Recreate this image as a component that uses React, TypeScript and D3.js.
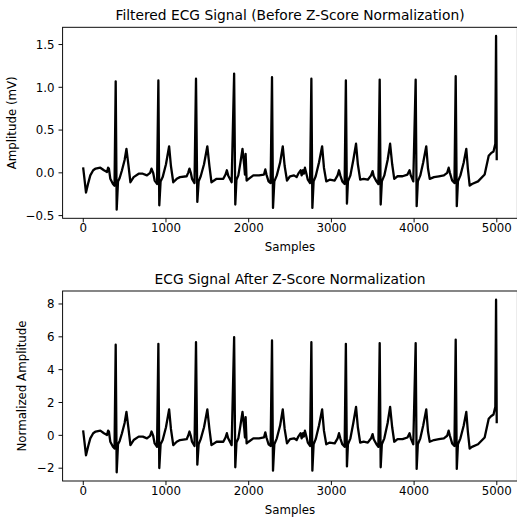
import React from "react";
import * as d3 from "d3";

// Sample index of each traced point of the filtered ECG
const ecgSamples = [
  0, 12, 33, 60, 85, 120, 150, 206, 250, 287, 300, 310, 327, 359, 378,
  392, 404, 420, 440, 468, 500, 522, 545, 570, 609, 670, 720, 770, 808, 825, 845, 863, 892,
  908, 919, 935, 960, 1000, 1038, 1060, 1088, 1130, 1169, 1250, 1268, 1284, 1300, 1315, 1345,
  1363, 1379, 1395, 1420, 1460, 1500, 1525, 1550, 1612, 1693, 1720, 1736, 1752, 1794,
  1824, 1838, 1852, 1875, 1900, 1925, 1945, 1955, 1963, 1975, 2000, 2056, 2125, 2185, 2201, 2215, 2240, 2265,
  2282, 2294, 2310, 2340, 2380, 2412, 2435, 2463, 2500, 2548, 2580, 2600, 2628, 2640, 2657, 2667, 2680, 2695, 2715, 2742,
  2758, 2770, 2785, 2810, 2850, 2888, 2910, 2938, 2980, 3040, 3075, 3092, 3108, 3132, 3160,
  3175, 3188, 3200, 3230, 3265, 3298, 3320, 3348, 3390, 3440, 3480, 3498, 3512, 3545, 3568,
  3584, 3596, 3610, 3640, 3680, 3710, 3735, 3760, 3800, 3860, 3920, 3945, 3960, 3990,
  4019, 4031, 4045, 4075, 4110, 4147, 4168, 4189, 4240, 4300, 4360, 4400, 4418, 4433, 4460, 4488,
  4503, 4516, 4530, 4560, 4600, 4631, 4650, 4672, 4700, 4773, 4853, 4902, 4930, 4960, 4982,
  4991, 4999,
];

// Amplitude (mV) at each traced point
const ecgAmplitude = [
  0.05, -0.05, -0.23, -0.12, -0.03, 0.03, 0.05, 0.06, 0.03, 0.01, 0.06, 0.05, -0.07, -0.13, -0.15,
  1.07, -0.43, -0.1, -0.06, 0.03, 0.15, 0.28, 0.1, -0.11, -0.05, -0.01, -0.01, -0.03, 0.0, 0.05, 0.0, -0.09, -0.13,
  1.08, -0.38, -0.1, -0.05, 0.1, 0.31, 0.08, -0.11, -0.07, -0.05, -0.04, 0.0, 0.05, 0.0, -0.07, -0.12,
  1.1, -0.34, -0.1, -0.04, 0.1, 0.31, 0.08, -0.11, -0.07, -0.07, -0.02, 0.03, -0.03, -0.11,
  1.16, -0.37, -0.08, -0.03, 0.12, 0.28, 0.1, -0.02, 0.22, -0.09, -0.07, -0.03, -0.03, -0.02, 0.04, -0.02, -0.1, -0.12,
  1.12, -0.41, -0.1, -0.03, 0.12, 0.31, 0.08, -0.09, -0.04, -0.03, -0.05, -0.01, 0.03, -0.03, 0.03, -0.01, 0.06, 0.0, -0.08, -0.12,
  1.1, -0.41, -0.1, -0.04, 0.12, 0.31, 0.06, -0.1, -0.08, -0.09, -0.03, 0.03, -0.03, -0.1, -0.13,
  1.08, -0.36, -0.1, -0.03, 0.15, 0.34, 0.1, -0.08, -0.07, -0.08, -0.03, 0.02, -0.04, -0.1, -0.13,
  1.09, -0.37, -0.1, -0.03, 0.15, 0.34, 0.1, -0.07, -0.04, -0.04, -0.02, 0.03, -0.03, -0.1,
  1.09, -0.39, -0.1, -0.03, 0.12, 0.31, 0.05, -0.07, -0.05, -0.04, -0.03, 0.0, 0.06, 0.0, -0.09, -0.12,
  1.13, -0.39, -0.1, -0.03, 0.12, 0.28, 0.05, -0.15, -0.13, -0.1, -0.02, 0.2, 0.23, 0.25, 0.34,
  1.6, 0.16,
];

// Z-score parameters
const signalMean = 0.005;
const signalStd = 0.193;

const xTicks = [0, 1000, 2000, 3000, 4000, 5000];
const topYTicks = [-0.5, 0.0, 0.5, 1.0, 1.5];
const bottomYTicks = [-2, 0, 2, 4, 6, 8];

const titles = [
  "Filtered ECG Signal (Before Z-Score Normalization)",
  "ECG Signal After Z-Score Normalization",
];
const yLabels = ["Amplitude (mV)", "Normalized Amplitude"];

const W = 517;
const H = 523;
const FONT = "DejaVu Sans, sans-serif";
const TEXT = "#000";

type PanelProps = {
  values: number[];
  top: number;
  bottom: number;
  yTicks: number[];
  fmt: (v: number) => string;
  title: string;
  ylabel: string;
  ylabelX: number;
};

function pad(ext: [number, number]): [number, number] {
  const r = ext[1] - ext[0];
  return [ext[0] - 0.05 * r, ext[1] + 0.05 * r];
}

function Panel({ values, top, bottom, yTicks, fmt, title, ylabel, ylabelX }: PanelProps) {
  const left = 62.6;
  const right = 517.4;
  const xExt = d3.extent(ecgSamples) as [number, number];
  const yExt = d3.extent(values) as [number, number];
  const x = d3.scaleLinear().domain(pad(xExt)).range([left, right]);
  const y = d3.scaleLinear().domain(pad(yExt)).range([bottom, top]);
  const pts = ecgSamples.map((s, i) => [s, values[i]] as [number, number]);
  const line = d3
    .line<[number, number]>()
    .x((d) => x(d[0]))
    .y((d) => y(d[1]));
  const tickLen = 4.1;
  return (
    <g>
      <path d={line(pts) || ""} fill="none" stroke="#000" strokeWidth={2.3} strokeLinejoin="round" strokeLinecap="square" />
      <rect x={left} y={top} width={right - left} height={bottom - top} fill="none" stroke="#000" strokeWidth={0.95} />
      {xTicks.map((t) => (
        <g key={"x" + t}>
          <line x1={x(t)} x2={x(t)} y1={bottom} y2={bottom + tickLen} stroke="#000" strokeWidth={0.95} />
          <text x={x(t)} y={bottom + 13.6} fontSize={11.8} fontFamily={FONT} fill={TEXT} textAnchor="middle">
            {String(t)}
          </text>
        </g>
      ))}
      {yTicks.map((t) => (
        <g key={"y" + t}>
          <line x1={left - tickLen} x2={left} y1={y(t)} y2={y(t)} stroke="#000" strokeWidth={0.95} />
          <text x={left - 8.2} y={y(t)} dy="0.36em" fontSize={11.8} fontFamily={FONT} fill={TEXT} textAnchor="end">
            {fmt(t)}
          </text>
        </g>
      ))}
      <text x={(left + right) / 2} y={bottom + 33} fontSize={11.8} fontFamily={FONT} fill={TEXT} textAnchor="middle">
        Samples
      </text>
      <text
        transform={`translate(${ylabelX},${(top + bottom) / 2}) rotate(-90)`}
        fontSize={11.8}
        fontFamily={FONT}
        fill={TEXT}
        textAnchor="middle"
      >
        {ylabel}
      </text>
      <text x={(left + right) / 2} y={top - 7} fontSize={13.8} fontFamily={FONT} fill={TEXT} textAnchor="middle">
        {title}
      </text>
    </g>
  );
}

const minus = (s: string) => s.replace("-", "\u2212");

export default function App() {
  const normalized = ecgAmplitude.map((v) => (v - signalMean) / signalStd);
  return (
    <svg
      width={W}
      height={H}
      viewBox={`0 0 ${W} ${H}`}
      style={{ position: "absolute", left: 0, top: 0, background: "#fff" }}
    >
      <rect x={0} y={0} width={W} height={H} fill="#fff" />
      <Panel
        values={ecgAmplitude}
        top={27.3}
        bottom={218.3}
        yTicks={topYTicks}
        fmt={(v) => minus(v.toFixed(1))}
        title={titles[0]}
        ylabel={yLabels[0]}
        ylabelX={16}
      />
      <Panel
        values={normalized}
        top={291}
        bottom={481}
        yTicks={bottomYTicks}
        fmt={(v) => minus(String(v))}
        title={titles[1]}
        ylabel={yLabels[1]}
        ylabelX={26}
      />
    </svg>
  );
}
